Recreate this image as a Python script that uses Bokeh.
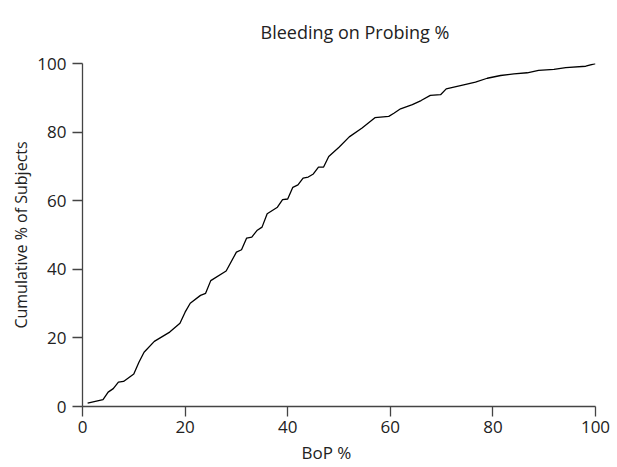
from bokeh.plotting import figure
from bokeh.models import Title, FixedTicker, Range1d
from bokeh.embed import file_html
from bokeh.resources import INLINE

# Cumulative % of subjects by BoP %
bop_pct = [1, 4, 5, 6, 7, 8, 10, 11, 12, 14, 17, 19, 20, 21, 23, 24, 25, 28, 30, 31,
           32, 33, 34, 35, 36, 38, 39, 40, 41, 42, 43, 44, 45, 46, 47, 48, 50, 52, 54.5,
           57, 59.7, 60.7, 62, 64.3, 66, 67.8, 69.8, 70.9, 74.3, 76.6, 78.9, 81.5, 84.1,
           86.7, 88.9, 91.9, 94.2, 98.1, 100]
cum_pct = [1.0, 2.0, 4.2, 5.2, 7.1, 7.3, 9.5, 12.9, 15.8, 19.0, 21.7, 24.3, 27.5, 30.1,
           32.4, 33.0, 36.7, 39.5, 45.0, 45.7, 49.1, 49.4, 51.3, 52.3, 56.2, 58.1, 60.3,
           60.5, 63.9, 64.6, 66.6, 66.9, 67.8, 69.8, 69.8, 72.9, 75.6, 78.6, 81.2, 84.2,
           84.6, 85.5, 86.8, 88.0, 89.2, 90.7, 90.9, 92.6, 93.8, 94.6, 95.7, 96.5, 97.0,
           97.3, 98.0, 98.3, 98.8, 99.2, 100.0]
x_ticks = [0, 20, 40, 60, 80, 100]
y_ticks = [0, 20, 40, 60, 80, 100]

FONT = "Open Sans"
AXIS_COLOR = "#444444"
TEXT_COLOR = "#222222"

p = figure(width=617, height=467, output_backend="svg", toolbar_location=None,
           x_range=Range1d(0, 100), y_range=Range1d(0, 100),
           min_border_left=82, min_border_right=22, min_border_top=63, min_border_bottom=61)
p.outline_line_color = None
p.xgrid.grid_line_color = None
p.ygrid.grid_line_color = None

p.line(bop_pct, cum_pct, line_color="black", line_width=1.3)

for ax, ticks in ((p.xaxis[0], x_ticks), (p.yaxis[0], y_ticks)):
    ax.ticker = FixedTicker(ticks=ticks)
    ax.minor_tick_line_color = None
    ax.major_tick_in = 0
    ax.major_tick_out = 10
    ax.axis_line_color = AXIS_COLOR
    ax.axis_line_width = 1.3
    ax.major_tick_line_color = AXIS_COLOR
    ax.major_tick_line_width = 1.3
    ax.major_label_text_font = FONT
    ax.major_label_text_font_size = "17px"
    ax.major_label_text_color = TEXT_COLOR
    ax.axis_label_text_font = FONT
    ax.axis_label_text_font_size = "16px"
    ax.axis_label_text_font_style = "normal"
    ax.axis_label_text_color = TEXT_COLOR

p.yaxis.axis_label = "Cumulative % of Subjects"
p.xaxis.major_label_standoff = 4
p.yaxis.major_label_standoff = 6
p.yaxis.axis_label_standoff = 2

p.title.text = "Bleeding on Probing %"
p.title.align = "left"
p.title.offset = 178
p.title.vertical_align = "top"
p.title.standoff = 35
p.title.text_font = FONT
p.title.text_font_size = "18px"
p.title.text_font_style = "normal"
p.title.text_color = TEXT_COLOR

xlabel = Title(text="BoP %", align="left", offset=219, standoff=7,
               text_font=FONT, text_font_size="17px", text_font_style="normal",
               text_color=TEXT_COLOR)
p.add_layout(xlabel, "below")

open("out.html", "w").write(file_html(p, INLINE))
